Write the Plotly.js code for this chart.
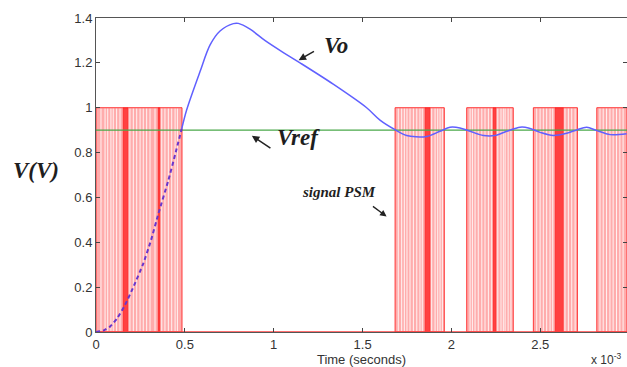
<!DOCTYPE html>
<html>
<head>
<meta charset="utf-8">
<script src="https://cdn.plot.ly/plotly-3.0.1.min.js"></script>
<style>html,body{margin:0;padding:0;background:#fff;}#chart{width:627px;height:367px;}</style>
</head>
<body>
<div id="chart"></div>
<script>
// ---- data (time in ms, i.e. x 10^-3 s) ----
var voTime = [0, 0.04, 0.079, 0.12, 0.163, 0.21, 0.266, 0.31, 0.351, 0.407, 0.445, 0.482,
              0.510, 0.585, 0.642, 0.698, 0.773, 0.801, 0.867, 0.95, 1.05, 1.148, 1.335, 1.523, 1.598,
              1.683, 1.748, 1.800, 1.861, 1.936, 1.992, 2.048, 2.105, 2.180, 2.245, 2.311, 2.386,
              2.433, 2.499, 2.573, 2.649, 2.705, 2.761, 2.818, 2.893, 2.986];
var voValue = [0, 0.006, 0.024, 0.062, 0.12, 0.2, 0.305, 0.41, 0.527, 0.676, 0.79, 0.905,
               0.99, 1.16, 1.28, 1.342, 1.375, 1.376, 1.35, 1.30, 1.248, 1.20, 1.105, 1.00, 0.945,
               0.902, 0.876, 0.870, 0.872, 0.895, 0.913, 0.910, 0.895, 0.876, 0.876, 0.895, 0.913,
               0.910, 0.89, 0.876, 0.886, 0.901, 0.913, 0.898, 0.880, 0.884];
var dashedUntil = 0.482;
var vrefValue = 0.9;
var timeEnd = 2.988;

var burstStart = [0, 1.683, 2.086, 2.461, 2.818];
var burstEnd   = [0.484, 1.960, 2.348, 2.709, 2.988];
var pulseLevel = 1;

var gapTimes = [0.028, 0.051, 0.066, 0.084, 0.097, 0.116, 0.135, 0.191, 0.210, 0.229, 0.248, 0.266,
                0.285, 0.304, 0.332, 0.370, 0.388, 0.407, 0.426, 0.445, 0.458,
                1.701, 1.720, 1.735, 1.750, 1.767, 1.786, 1.805, 1.823, 1.836, 1.889, 1.908, 1.923, 1.936, 1.949,
                2.105, 2.118, 2.133, 2.151, 2.171, 2.189, 2.208, 2.227, 2.261, 2.279, 2.292, 2.302, 2.319, 2.335,
                2.480, 2.499, 2.517, 2.536, 2.555, 2.570, 2.639, 2.658, 2.677, 2.696,
                2.836, 2.854, 2.873, 2.892, 2.910, 2.929, 2.948, 2.966];
var denseStart = [0.152, 0.349, 1.851, 2.234, 2.583];
var denseEnd   = [0.180, 0.360, 1.880, 2.251, 2.630];

var xTicks = [0, 0.5, 1, 1.5, 2, 2.5, 3];
var xTickText = ['0', '0.5', '1', '1.5', '2', '2.5', '3'];
var yTicks = [0, 0.2, 0.4, 0.6, 0.8, 1, 1.2, 1.4];
var yTickText = ['0', '0.2', '0.4', '0.6', '0.8', '1', '1.2', '1.4'];

// ---- build traces ----
function rects(starts, ends, level) {
  var x = [], y = [];
  for (var i = 0; i < starts.length; i++) {
    x.push(starts[i], starts[i], ends[i], ends[i], starts[i], null);
    y.push(0, level, level, 0, 0, null);
  }
  return {x: x, y: y};
}
var bursts = rects(burstStart, burstEnd, pulseLevel);
var dense = rects(denseStart, denseEnd, pulseLevel);

var gx = [], gy = [];
gapTimes.forEach(function (t) { gx.push(t, t, null); gy.push(0.004, pulseLevel - 0.004, null); });

var dX = [], dY = [], sX = [], sY = [];
for (var i = 0; i < voTime.length; i++) {
  if (voTime[i] <= dashedUntil) { dX.push(voTime[i]); dY.push(voValue[i]); }
  if (voTime[i] >= dashedUntil) { sX.push(voTime[i]); sY.push(voValue[i]); }
}

var traces = [
  {x: bursts.x, y: bursts.y, mode: 'lines', fill: 'toself', fillcolor: 'rgba(255,70,70,0.45)',
   line: {color: 'rgba(255,40,40,0.9)', width: 1}, hoverinfo: 'skip', showlegend: false},
  {x: gx, y: gy, mode: 'lines', line: {color: 'rgba(255,255,255,0.85)', width: 1},
   hoverinfo: 'skip', showlegend: false},
  {x: dense.x, y: dense.y, mode: 'lines', fill: 'toself', fillcolor: 'rgba(255,20,20,0.7)',
   line: {color: 'rgba(255,20,20,0.7)', width: 0.5}, hoverinfo: 'skip', showlegend: false},
  {x: [0, timeEnd], y: [0, 0], mode: 'lines', line: {color: '#ff4040', width: 1.5},
   hoverinfo: 'skip', showlegend: false},
  {x: [0, timeEnd], y: [vrefValue, vrefValue], mode: 'lines', line: {color: '#4aa84a', width: 1.3},
   showlegend: false},
  {x: dX, y: dY, mode: 'lines', line: {color: '#6a35cc', width: 2, dash: '4px,3px', shape: 'spline', smoothing: 0.4},
   showlegend: false},
  {x: sX, y: sY, mode: 'lines', line: {color: '#6060ff', width: 1.5, shape: 'spline', smoothing: 0.9},
   showlegend: false}
];

var tickFont = {family: 'Liberation Sans, Arial, sans-serif', size: 13, color: '#333'};
var labelFont = {family: 'Liberation Serif, DejaVu Serif, serif', size: 23, color: '#1e1e1e'};

var layout = {
  width: 627, height: 367,
  margin: {l: 96, r: 0, t: 18, b: 35},
  paper_bgcolor: '#fff', plot_bgcolor: '#fff',
  showlegend: false,
  xaxis: {
    range: [0, timeEnd], tickvals: xTicks, ticktext: xTickText,
    ticks: 'inside', ticklen: 4, tickcolor: '#444', mirror: 'ticks',
    showline: true, linecolor: '#555', linewidth: 1, showgrid: false, zeroline: false,
    tickfont: tickFont,
    title: {text: 'Time (seconds)', font: {family: 'Liberation Sans, Arial, sans-serif', size: 13, color: '#333'}, standoff: 2}
  },
  yaxis: {
    range: [0, 1.4], tickvals: yTicks, ticktext: yTickText,
    ticks: 'inside', ticklen: 4, tickcolor: '#444', mirror: 'ticks',
    showline: true, linecolor: '#555', linewidth: 1, showgrid: false, zeroline: false,
    tickfont: tickFont
  },
  annotations: [
    {xref: 'paper', yref: 'paper', x: -0.113, y: 0.515, text: '<b><i>V(V)</i></b>', showarrow: false,
     font: labelFont, xanchor: 'center', yanchor: 'middle'},
    {x: 1.35, y: 1.277, text: '<b><i>Vo</i></b>', showarrow: false, font: labelFont,
     xanchor: 'center', yanchor: 'middle'},
    {x: 1.14, y: 1.212, ax: 1.235, ay: 1.255, axref: 'x', ayref: 'y', text: '', showarrow: true,
     arrowhead: 2, arrowsize: 1, arrowwidth: 1.5, arrowcolor: '#222'},
    {x: 1.138, y: 0.869, text: '<b><i>Vref</i></b>', showarrow: false, font: labelFont,
     xanchor: 'center', yanchor: 'middle'},
    {x: 0.877, y: 0.875, ax: 0.99, ay: 0.815, axref: 'x', ayref: 'y', text: '', showarrow: true,
     arrowhead: 2, arrowsize: 1, arrowwidth: 1.5, arrowcolor: '#222'},
    {x: 1.37, y: 0.622, text: '<b><i>signal PSM</i></b>', showarrow: false,
     font: {family: 'Liberation Serif, DejaVu Serif, serif', size: 15, color: '#1e1e1e'},
     xanchor: 'center', yanchor: 'middle'},
    {x: 1.635, y: 0.515, ax: 1.55, ay: 0.565, axref: 'x', ayref: 'y', text: '', showarrow: true,
     arrowhead: 2, arrowsize: 1, arrowwidth: 1.3, arrowcolor: '#222'},
    {xref: 'paper', yref: 'paper', x: 0.929, y: -0.085, text: 'x 10<sup>-3</sup>', showarrow: false,
     font: {family: 'Liberation Sans, Arial, sans-serif', size: 12, color: '#333'}, xanchor: 'left', yanchor: 'middle'}
  ]
};

Plotly.newPlot('chart', traces, layout, {displayModeBar: false, staticPlot: true});
</script>
</body>
</html>
